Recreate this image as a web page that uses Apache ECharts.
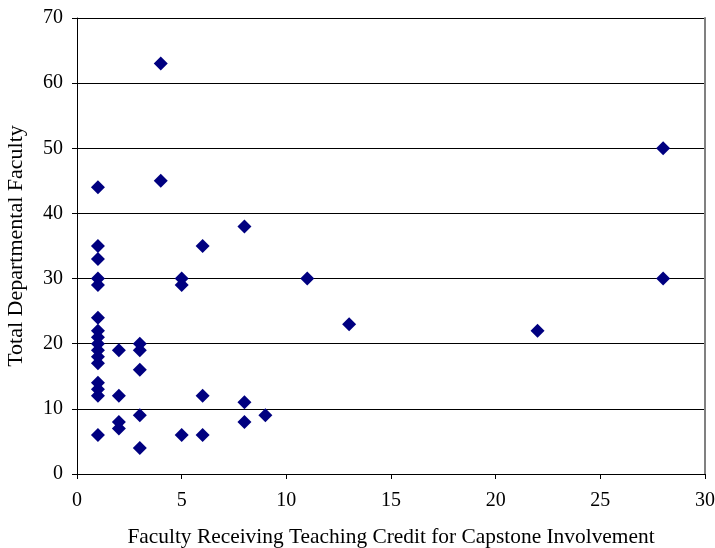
<!DOCTYPE html>
<html>
<head>
<meta charset="utf-8">
<script src="https://cdn.jsdelivr.net/npm/echarts@6/dist/echarts.min.js"></script>
<style>
  html, body { margin: 0; padding: 0; background: #fff; }
  #chart { width: 715px; height: 548px; }
</style>
</head>
<body>
<div id="chart"></div>
<script>
// Faculty receiving teaching credit (x) vs. total departmental faculty (y)
const creditFaculty = [
  1, 1, 1, 1, 1, 1, 1, 1, 1, 1, 1, 1, 1, 1, 1, 1,
  2, 2, 2, 2,
  3, 3, 3, 3, 3,
  4, 4,
  5, 5, 5,
  6, 6, 6,
  8, 8, 8,
  9, 11, 13, 22,
  28, 28
];
const totalFaculty = [
  44, 35, 33, 30, 29, 24, 22, 21, 20, 19, 18, 17, 14, 13, 12, 6,
  19, 12, 8, 7,
  20, 19, 16, 9, 4,
  63, 45,
  30, 29, 6,
  35, 12, 6,
  38, 11, 8,
  9, 30, 23, 22,
  50, 30
];
const xTitle = 'Faculty Receiving Teaching Credit for Capstone Involvement';
const yTitle = 'Total Departmental Faculty';

const points = creditFaculty.map((x, i) => [x, totalFaculty[i]]);

const font = '"Liberation Serif", "Times New Roman", serif';
const chart = echarts.init(document.getElementById('chart'), null, { renderer: 'canvas' });

chart.setOption({
  animation: false,
  backgroundColor: '#ffffff',
  grid: { left: 77, right: 10, top: 18, bottom: 74, containLabel: false, outerBoundsMode: 'none' },
  xAxis: {
    type: 'value',
    min: 0, max: 30, interval: 5,
    name: xTitle,
    nameLocation: 'middle',
    nameGap: 53,
    nameTextStyle: { fontFamily: font, fontSize: 21.4, color: '#000' },
    axisLine: { show: true, lineStyle: { color: '#000', width: 1 } },
    axisTick: { show: true, inside: false, length: 5, lineStyle: { color: '#000' } },
    axisLabel: { fontFamily: font, fontSize: 20, color: '#000', margin: 17 },
    splitLine: { show: false }
  },
  yAxis: [{
    type: 'value',
    min: 0, max: 70, interval: 10,
    name: yTitle,
    nameLocation: 'middle',
    nameGap: 50,
    nameTextStyle: { fontFamily: font, fontSize: 22, color: '#000' },
    axisLine: { show: true, lineStyle: { color: '#000', width: 1 } },
    axisTick: { show: true, inside: false, length: 5, lineStyle: { color: '#000' } },
    axisLabel: { fontFamily: font, fontSize: 20, color: '#000', margin: 14 },
    splitLine: { show: true, lineStyle: { color: '#000', width: 1 } }
  }, {
    type: 'value',
    position: 'right',
    min: 0, max: 70, interval: 10,
    axisLine: { show: true, lineStyle: { color: '#808080', width: 2 } },
    axisTick: { show: false },
    axisLabel: { show: false },
    splitLine: { show: false }
  }],
  series: [{
    type: 'scatter',
    data: points,
    symbol: 'diamond',
    symbolSize: 14,
    itemStyle: { color: '#000080', opacity: 1 }
  }]
});
</script>
</body>
</html>
